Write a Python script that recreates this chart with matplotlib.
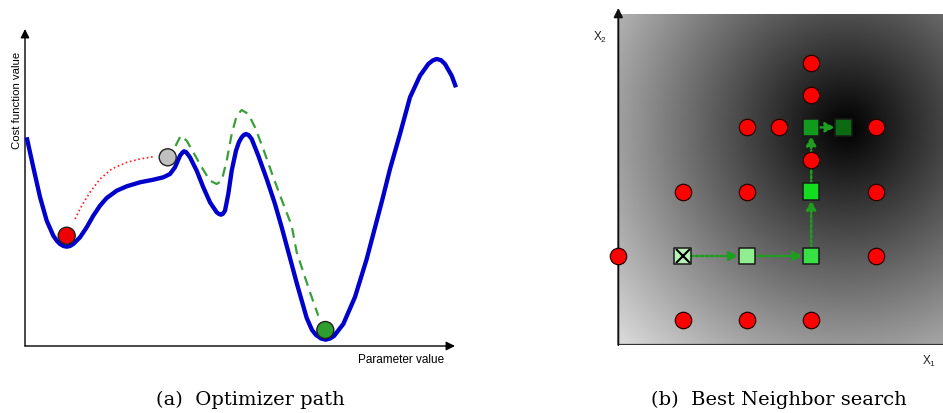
import numpy as np
import matplotlib.pyplot as plt

plt.rcParams['font.family'] = ['Liberation Sans', 'DejaVu Sans']
plt.rcParams['mathtext.default'] = 'regular'

# --- (a) optimizer path: values (parameter, cost)
cost_x = [1.7, 8.3, 15, 21.7, 28.3, 32, 35, 38.5, 41.7, 45, 48.3, 55, 61.7, 68.3, 75,
          81.7, 91.7, 101.7, 115, 128.3, 138.3, 145, 150, 155, 157.5, 159, 161, 165,
          171.7, 178.3, 185, 191.7, 194, 196, 198, 200, 203.3, 206.7, 211, 214, 216.7,
          219, 221, 223.5, 226.7, 233.3, 241.7, 250, 256.7, 265, 271.7, 281.7, 287, 291,
          296, 300.7, 305, 309, 318.3, 330, 341.7, 357.5, 365, 375, 385, 395, 403.3, 408,
          411.7, 416, 420, 426.7, 431]
cost_y = [208.7, 178.7, 149, 125.3, 110.3, 105, 102, 100, 99.3, 100, 102, 108.7, 118.7,
          130.3, 140.3, 148, 155.3, 159.7, 163.7, 166.3, 168.7, 172, 178.7, 190.3, 193.5,
          194.7, 194, 188.7, 175.3, 158.7, 143.7, 133.7, 132, 131.3, 132.3, 135.3, 152,
          175.3, 195.3, 204, 208.7, 211.2, 212, 211, 207, 190.3, 167, 142, 118.7, 88,
          63, 28, 16, 11, 7.5, 6.3, 7.5, 10, 22, 49, 87, 147, 177, 212, 248.7, 270.3,
          282, 285.7, 287, 285.8, 282, 270.3, 258.7]

path_x = [150.5, 155.7, 161.7, 168.3, 176.7, 185, 191.7, 196.7, 201.7, 206.7, 211.7,
          216.7, 223.3, 230, 238.3, 248.3, 258.3, 266.7, 271.7, 285, 293.3]
path_y = [200, 210.3, 205.3, 193.7, 178.7, 165.3, 162, 165.3, 185.3, 212, 230.3, 236,
          232, 218.7, 197, 168.7, 142, 120.3, 93.7, 53.7, 30.3]

jump_x = [50, 56.7, 65, 75, 86.7, 101.7, 115, 128.3]
jump_y = [127, 140.3, 153.7, 167, 177, 183.7, 187, 189.3]

ball_x = [41.7, 142.7, 300.3]
ball_y = [110.3, 188.7, 16]
ball_colors = ['#ee0000', '#c0c0c0', '#2e9e2e']

# --- (b) best neighbor search: grid positions
red_c = [0, 1, 2, 3, 4, 1, 2, 4, 3, 2, 2.5, 4, 3, 3]
red_r = [1, 0, 0, 0, 1, 2, 2, 2, 2.5, 3, 3, 3, 3.5, 4]
sq_c = [1, 2, 3, 3, 3, 3.5]
sq_r = [1, 1, 1, 2, 3, 3]
sq_colors = ['#b8f2b8', '#90ee90', '#38e045', '#14dc1e', '#129a1c', '#0b6a12']
steps = [((1, 1), (2, 1)), ((2, 1), (3, 1)), ((3, 1), (3, 2)),
         ((3, 2), (3, 3)), ((3, 3), (3.5, 3))]
optimum = (3.55, 3.0)

W, H = 943, 414
fig = plt.figure(figsize=(W / 100, H / 100), dpi=100)

# ---------------- left panel
ax1 = fig.add_axes([25 / W, (H - 347) / H, 430 / W, 317 / H])
ax1.set_xlim(0, 430)
ax1.set_ylim(0, 317)
ax1.axis('off')
arrow_kw = dict(arrowstyle='-|>', color='black', lw=1.0, mutation_scale=13,
                shrinkA=0, shrinkB=0)
ax1.annotate('', xy=(0, 317), xytext=(0, 0), arrowprops=arrow_kw, annotation_clip=False)
ax1.annotate('', xy=(430, 0), xytext=(0, 0), arrowprops=arrow_kw, annotation_clip=False)

ax1.plot(cost_x, cost_y, color='#0000cc', lw=3.1, solid_capstyle='butt',
         solid_joinstyle='round', clip_on=False, zorder=3)
ax1.plot(path_x, path_y, color='#3a9e3a', lw=1.6, dashes=(4.5, 3), zorder=2)
ax1.plot(jump_x, jump_y, color='#ff2020', lw=1.2, dashes=(1, 1.6), zorder=2)
ax1.scatter(ball_x, ball_y, s=150, c=ball_colors, edgecolors='#222222',
            linewidths=1.0, zorder=5, clip_on=False)

ax1.text(-8, 247, 'Cost function value', rotation=90, ha='center', va='center',
         fontsize=8.2)
ax1.text(419, -13, 'Parameter value', ha='right', va='center', fontsize=8.5)
fig.text(250 / W, 1 - 400 / H, '(a)  Optimizer path', ha='center', va='center',
         fontsize=14, family='DejaVu Serif')

# ---------------- right panel
u = 64.3
ax2 = fig.add_axes([618.3 / W, (H - 346) / H, 5.5 * u / W, 331 / H])
ax2.set_xlim(0, 5.5)
ax2.set_ylim(-0.384, 4.763)
ax2.axis('off')

gx, gy = np.meshgrid(np.linspace(0, 5.5, 400), np.linspace(-0.384, 4.763, 400))
dist = np.hypot(gx - optimum[0], gy - optimum[1])
shade = np.clip(dist / 5.68, 0, 1)
ax2.imshow(shade, cmap='gray', vmin=0, vmax=1, origin='lower', aspect='auto',
           extent=(0, 5.5, -0.384, 4.763), zorder=0)

ax2.plot([0, 5.5], [-0.384, -0.384], color='#333333', lw=1.6, zorder=1)
ax2.annotate('', xy=(0, 4.857), xytext=(0, -0.384), annotation_clip=False,
             arrowprops=dict(arrowstyle='-|>', color='#111111', lw=1.4,
                             mutation_scale=13, shrinkA=0, shrinkB=0))

for (a, b) in steps:
    ax2.annotate('', xy=b, xytext=a,
                 arrowprops=dict(arrowstyle='-|>', color='#1e9e1e', lw=1.8,
                                 linestyle=(0, (1, 1)), mutation_scale=14,
                                 shrinkA=6, shrinkB=6), zorder=2)

ax2.scatter(red_c, red_r, s=140, c='#ff0000', edgecolors='#2a0000', linewidths=0.9,
            zorder=4, clip_on=False)
ax2.scatter(sq_c, sq_r, s=140, c=sq_colors, marker='s', edgecolors='#1a1a1a',
            linewidths=1.1, zorder=4)
ax2.plot(sq_c[0], sq_r[0], marker='x', color='black', ms=10, mew=1.5, zorder=5)

ax2.text(-0.285, 4.42, 'X$_2$', ha='center', va='center', fontsize=8.5, color='#222222')
ax2.text(4.84, -0.63, 'X$_1$', ha='center', va='center', fontsize=8.5, color='#222222')
fig.text(778.5 / W, 1 - 400 / H, '(b)  Best Neighbor search', ha='center',
         va='center', fontsize=14, family='DejaVu Serif')

fig.savefig('out.png', dpi=100)
